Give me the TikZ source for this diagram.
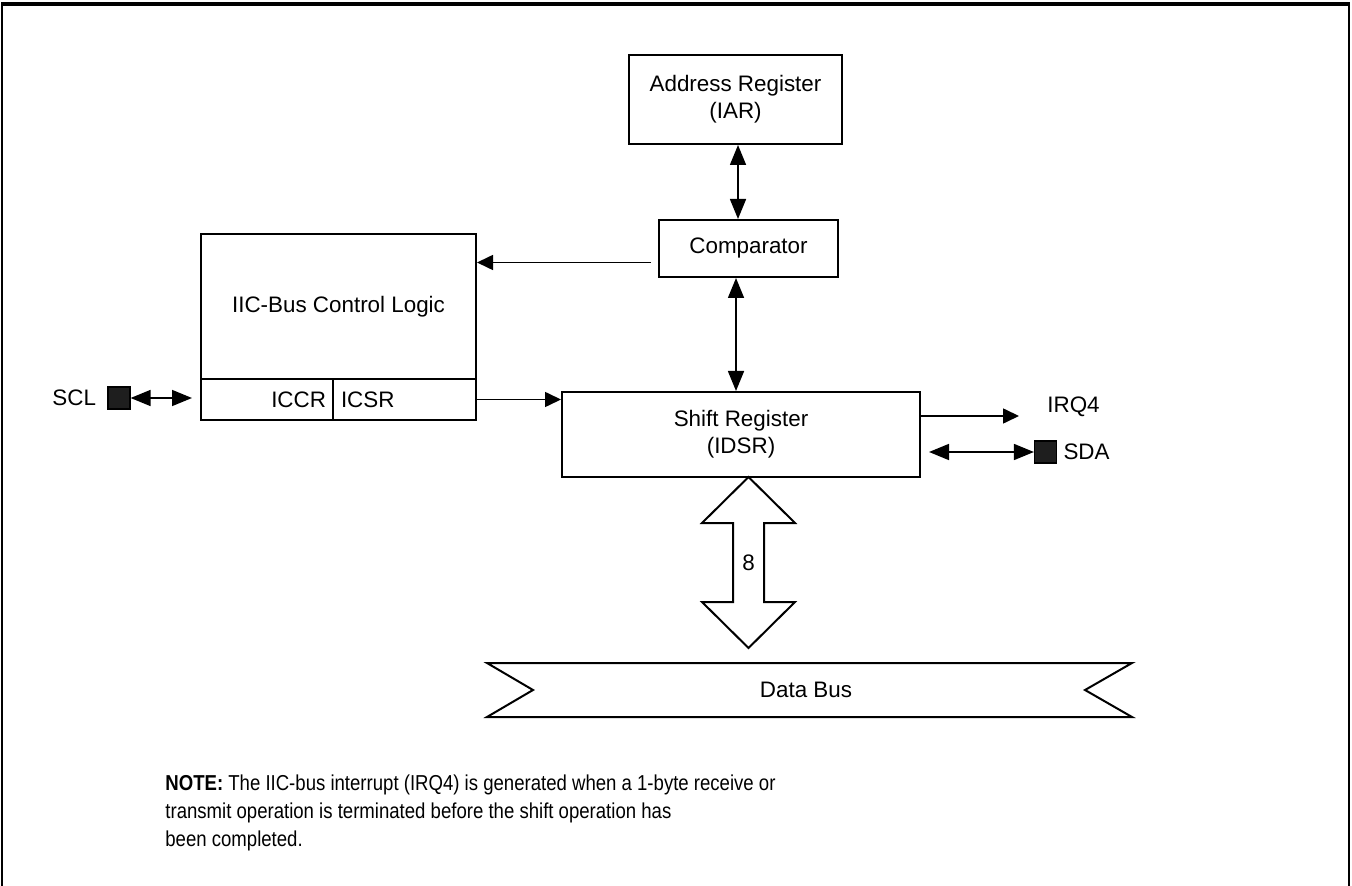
\documentclass[tikz,border=0pt]{standalone}
\usepackage{fontspec}
\setmainfont{Liberation Sans}
\newfontfamily\narrowfont[FakeStretch=0.86]{Liberation Sans}
\usepackage{xcolor}
\definecolor{cLine}{HTML}{000000}
\definecolor{cPad}{HTML}{1E1E1E}
\usepackage{tikz}
\usetikzlibrary{positioning,arrows.meta}
\tikzset{
  node-box/.style={draw=cLine,line width=1pt,inner sep=0pt,align=center,
    font=\fontsize{11.2}{13.5}\selectfont},
  node-pad/.style={draw=cLine,line width=0.6pt,fill=cPad,
    minimum size=11pt,inner sep=0pt},
  node-text/.style={inner sep=0pt,font=\fontsize{11.2}{13.5}\selectfont},
  % pfeile mit gefuellten dreiecksspitzen
  arrow/.style={-{Triangle[length=8pt,width=7.5pt]},line width=0.8pt,draw=cLine},
  arrow-both/.style={{Triangle[length=10pt,width=8pt]}-{Triangle[length=10pt,width=8pt]},
    line width=0.8pt,draw=cLine},
  bus-shape/.style={draw=cLine,line width=1pt,line join=miter},
  outer-frame/.style={draw=cLine,line width=1pt},
}

\begin{document}
\begin{tikzpicture}[x=0.5pt,y=-0.5pt]
  \useasboundingbox (0,0) rectangle (1352,886);
  \draw[outer-frame] (2,886) -- (2,4) -- (1349,4) -- (1349,886);
  \draw[outer-frame,line width=1.8pt] (1,4) -- (1350,4);

  \node[node-box,minimum width=106.5pt,minimum height=44.5pt] (iar) at (735.5,99.5) {Address Register\\(IAR)};
  \node[node-box,minimum width=89.5pt,minimum height=28.5pt]  (comp) at (748.5,248.5) {Comparator};
  \node[node-box,minimum width=137.5pt,minimum height=72.5pt] (iic) at (338.5,306.5) {IIC-Bus Control Logic};
  \node[node-box,minimum height=20.5pt,text width=59pt,align=right,inner xsep=3.5pt] (iccr) at (267,399.5) {ICCR};
  \node[node-box,minimum height=20.5pt,text width=63.5pt,align=left,inner xsep=4pt]  (icsr) at (404.5,399.5) {ICSR};
  \node[node-box,minimum width=179pt,minimum height=42.5pt] (shift) at (741,434.5) {Shift Register\\(IDSR)};

  \node[node-pad]                    (sclpad) at (119,398) {};
  \node[node-text,left=5.5pt of sclpad] (scl) {SCL};
  \node[node-pad]                    (sdapad) at (1045.5,452) {};
  \node[node-text,right=3pt of sdapad]  (sda) {SDA};
  \node[node-text,anchor=west]       (irq) at (1047,407) {IRQ4};
  \coordinate (irqend) at (1019,416);

  \draw[arrow-both] ([xshift=1.25pt]iar.south) -- ([xshift=1.25pt]iar.south |- comp.north);
  \draw[arrow-both] ([xshift=-6.25pt]comp.south) -- ([xshift=-6.25pt]comp.south |- shift.north);
  \draw[arrow,shorten <=3.5pt] ([yshift=-7pt]comp.west) -- ([yshift=-7pt]comp.west -| iic.east);
  \draw[arrow] (icsr.east) -- (icsr.east -| shift.west);
  \draw[arrow-both,shorten >=4pt] (sclpad.east) -- (sclpad.east -| iccr.west);
  \draw[arrow] (shift.east |- irqend) -- (irqend);
  \draw[arrow-both,shorten <=4pt] (shift.east |- sdapad) -- (sdapad.west);

  % 8-bit bus arrow and data bus
  \draw[bus-shape] (748.5,477) -- (795,523) -- (764,523) -- (764,602) -- (795,602) -- (748.5,648)
    -- (702,602) -- (733,602) -- (733,523) -- (702,523) -- cycle;
  \node[node-text] (buswidth) at (748.5,563) {8};
  \draw[bus-shape] (487,663) -- (1132,663) -- (1085,690) -- (1132,717) -- (487,717) -- (533,690) -- cycle;
  \node[node-text] (dbus) at (806,690) {Data Bus};

  \node[node-text,anchor=north west,align=left,font=\narrowfont\fontsize{10.8}{14}\selectfont] (note) at (165,774)
    {\textbf{NOTE:} The IIC-bus interrupt (IRQ4) is generated when a 1-byte receive or\\
     transmit operation is terminated before the shift operation has\\
     been completed.};
\end{tikzpicture}
\end{document}
